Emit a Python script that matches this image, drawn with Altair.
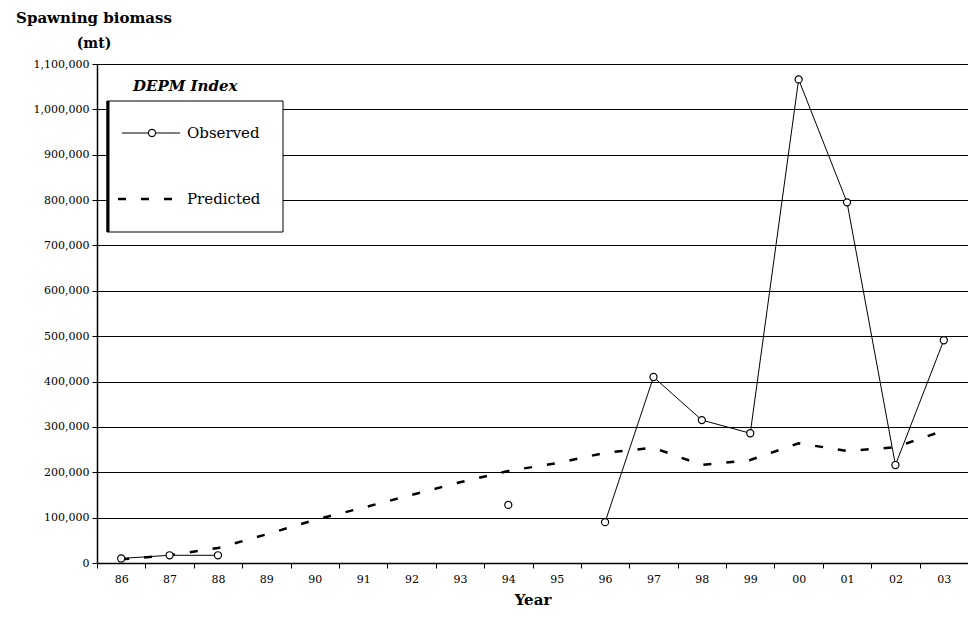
import altair as alt
import pandas as pd

years = ["86", "87", "88", "89", "90", "91", "92", "93", "94",
         "95", "96", "97", "98", "99", "00", "01", "02", "03"]
observed = [10000, 17000, 17000, None, None, None, None, None, 128000,
            None, 90000, 410000, 315000, 286000, 1066000, 795000, 216000, 491000]
predicted = [8000, 17000, 33000, 63000, 95000, 122000, 150000, 178000, 203000,
             220000, 243000, 254000, 216000, 227000, 264000, 247000, 255000, 292000]
y_ticks = [0, 100000, 200000, 300000, 400000, 500000, 600000,
           700000, 800000, 900000, 1000000, 1100000]

# segment ids so that gaps in the observed series break the line
seg, s, prev = [], 0, False
for v in observed:
    if v is None:
        prev = False
        seg.append(None)
    else:
        if not prev:
            s += 1
        prev = True
        seg.append(s)

df = pd.DataFrame({"year": years, "observed": observed,
                   "predicted": predicted, "seg": seg})
obs_df = df.dropna(subset=["observed"])

SERIF = "DejaVu Serif"

x_axis = alt.Axis(title="Year", labelAngle=0, tickBand="extent",
                  labelFont=SERIF, labelFontSize=11, labelColor="black",
                  titleFont=SERIF, titleFontSize=15, titleFontWeight="bold",
                  titleColor="black", titlePadding=8, labelPadding=5,
                  tickSize=5, grid=False)
y_axis = alt.Axis(values=y_ticks, labelExpr="format(datum.value, ',')",
                  title=None,
                  labelFont=SERIF, labelFontSize=11, labelColor="black",
                  tickSize=5, labelPadding=3, grid=True,
                  gridColor="black", gridWidth=1, gridOpacity=1)
yscale = alt.Scale(domain=[0, 1100000], nice=False)


def X():
    return alt.X("year:O", sort=years, axis=x_axis)


def Y(field):
    return alt.Y(field + ":Q", scale=yscale, axis=y_axis)


pred = alt.Chart(df).mark_line(color="black", strokeWidth=2.5,
                               strokeDash=[8, 15]).encode(
    x=X(), y=Y("predicted"))

obs_line = alt.Chart(obs_df).mark_line(color="black", strokeWidth=1).encode(
    x=X(), y=Y("observed"), detail="seg:N")
obs_pts = alt.Chart(obs_df).mark_point(shape="circle", filled=False, fill="white",
                                       fillOpacity=1, color="black",
                                       strokeWidth=1.2, size=50, opacity=1).encode(
    x=X(), y=Y("observed"))

one = pd.DataFrame({"a": [0]})

legend_box = alt.Chart(one).mark_rect(fill="white", stroke="black",
                                      strokeWidth=1).encode(
    x=alt.value(10), x2=alt.value(186), y=alt.value(37), y2=alt.value(168))
legend_edge = alt.Chart(one).mark_rule(color="black", strokeWidth=3).encode(
    x=alt.value(11), y=alt.value(37), y2=alt.value(168))
legend_title = alt.Chart(one).mark_text(text="DEPM Index", font=SERIF,
                                        fontSize=15, fontWeight="bold",
                                        fontStyle="italic", align="left",
                                        baseline="middle", color="black").encode(
    x=alt.value(36), y=alt.value(22))
obs_key_line = alt.Chart(one).mark_rule(color="black", strokeWidth=1).encode(
    x=alt.value(25), x2=alt.value(83), y=alt.value(69))
obs_key_pt = alt.Chart(one).mark_point(shape="circle", filled=False, fill="white",
                                       fillOpacity=1, color="black",
                                       strokeWidth=1.2, size=50, opacity=1).encode(
    x=alt.value(55), y=alt.value(69))
obs_key_txt = alt.Chart(one).mark_text(text="Observed", font=SERIF, fontSize=15,
                                       align="left", baseline="middle",
                                       color="black").encode(
    x=alt.value(90), y=alt.value(69))
pred_key_line = alt.Chart(one).mark_rule(color="black", strokeWidth=2.5,
                                         strokeDash=[8, 15]).encode(
    x=alt.value(21), x2=alt.value(82), y=alt.value(135))
pred_key_txt = alt.Chart(one).mark_text(text="Predicted", font=SERIF, fontSize=15,
                                        align="left", baseline="middle",
                                        color="black").encode(
    x=alt.value(90), y=alt.value(135))

ytitle1 = alt.Chart(one).mark_text(text="Spawning biomass", font=SERIF, fontSize=15,
                                   fontWeight="bold", align="center",
                                   baseline="middle", color="black").encode(
    x=alt.value(-3), y=alt.value(-46))
ytitle2 = alt.Chart(one).mark_text(text="(mt)", font=SERIF, fontSize=14,
                                   fontWeight="bold", align="center",
                                   baseline="middle", color="black").encode(
    x=alt.value(-3), y=alt.value(-20))

chart = alt.layer(
    pred, obs_line, obs_pts,
    legend_box, legend_edge, legend_title,
    obs_key_line, obs_key_pt, obs_key_txt, pred_key_line, pred_key_txt,
    ytitle1, ytitle2
).properties(
    width=871, height=499,
    padding={"left": 89, "top": 56, "right": 0, "bottom": 50},
    autosize=alt.AutoSizeParams(type="none"),
    background="white"
).configure_view(stroke=None).configure_axis(
    domainColor="black", tickColor="black", domainWidth=1.5
)

chart.save("out.html", embed_options={"renderer": "svg", "actions": False})
